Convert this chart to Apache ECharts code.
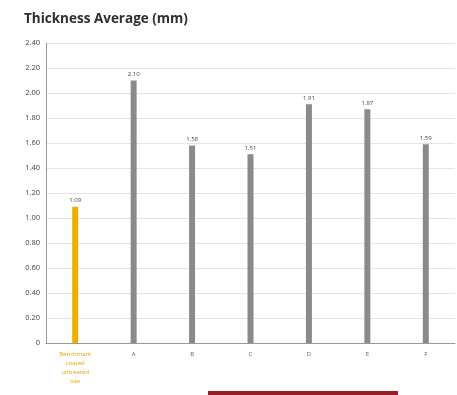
<!DOCTYPE html>
<html>
<head>
<meta charset="utf-8">
<script src="https://cdn.jsdelivr.net/npm/echarts@6/dist/echarts.min.js"></script>
<style>
  html, body { margin: 0; padding: 0; background: #fff; }
  #chart { width: 457px; height: 395px; }
</style>
</head>
<body>
<div id="chart"></div>
<script>
// categories + values
const categories = ['Benchmark\ncoated\nuntreated\nsite', 'A', 'B', 'C', 'D', 'E', 'F']
const thickness = [1.09, 2.10, 1.58, 1.51, 1.91, 1.87, 1.59]
const valueLabels = ['1.09', '2.10', '1.58', '1.51', '1.91', '1.87', '1.59']
const barColors = ['#ebb000', '#8a8a8a', '#8a8a8a', '#8a8a8a', '#8a8a8a', '#8a8a8a', '#8a8a8a']

const myChart = echarts.init(document.getElementById('chart'))

const option = {
  animation: false,
  title: {
    text: 'Thickness Average (mm)',
    left: 19,
    top: 7,
    textStyle: {
      fontFamily: 'Open Sans',
      fontSize: 13.5,
      fontWeight: 'bold',
      color: '#2e2e2e'
    }
  },
  grid: {
    left: 46,
    right: 2,
    top: 43,
    bottom: 52,
    containLabel: false
  },
  xAxis: {
    type: 'category',
    data: categories,
    axisTick: { show: false },
    axisLine: { lineStyle: { color: '#999', width: 1 } },
    axisLabel: {
      interval: 0,
      fontSize: 6,
      lineHeight: 9,
      margin: 7,
      fontFamily: 'Open Sans',
      color: (val, idx) => idx === 0 ? '#e0a800' : '#666'
    }
  },
  yAxis: {
    type: 'value',
    min: 0,
    max: 2.4,
    interval: 0.2,
    axisLine: { show: true, lineStyle: { color: '#999', width: 1 } },
    axisTick: { show: false },
    splitLine: { lineStyle: { color: '#e4e4e4', width: 1 } },
    axisLabel: {
      fontSize: 7.5,
      fontFamily: 'Open Sans',
      color: '#444',
      margin: 6,
      formatter: v => v === 0 ? '0' : v.toFixed(2)
    }
  },
  series: [
    {
      type: 'bar',
      barWidth: 6,
      data: thickness.map((v, i) => ({
        value: v,
        itemStyle: { color: barColors[i] },
        label: { formatter: valueLabels[i] }
      })),
      label: {
        show: true,
        position: 'top',
        distance: 3,
        fontSize: 6,
        fontFamily: 'Open Sans',
        color: '#444'
      }
    }
  ],
  graphic: [
    {
      type: 'rect',
      shape: { x: 208, y: 391, width: 190, height: 4 },
      style: { fill: '#9b1c22' }
    }
  ]
}

option && myChart.setOption(option)
</script>
</body>
</html>
